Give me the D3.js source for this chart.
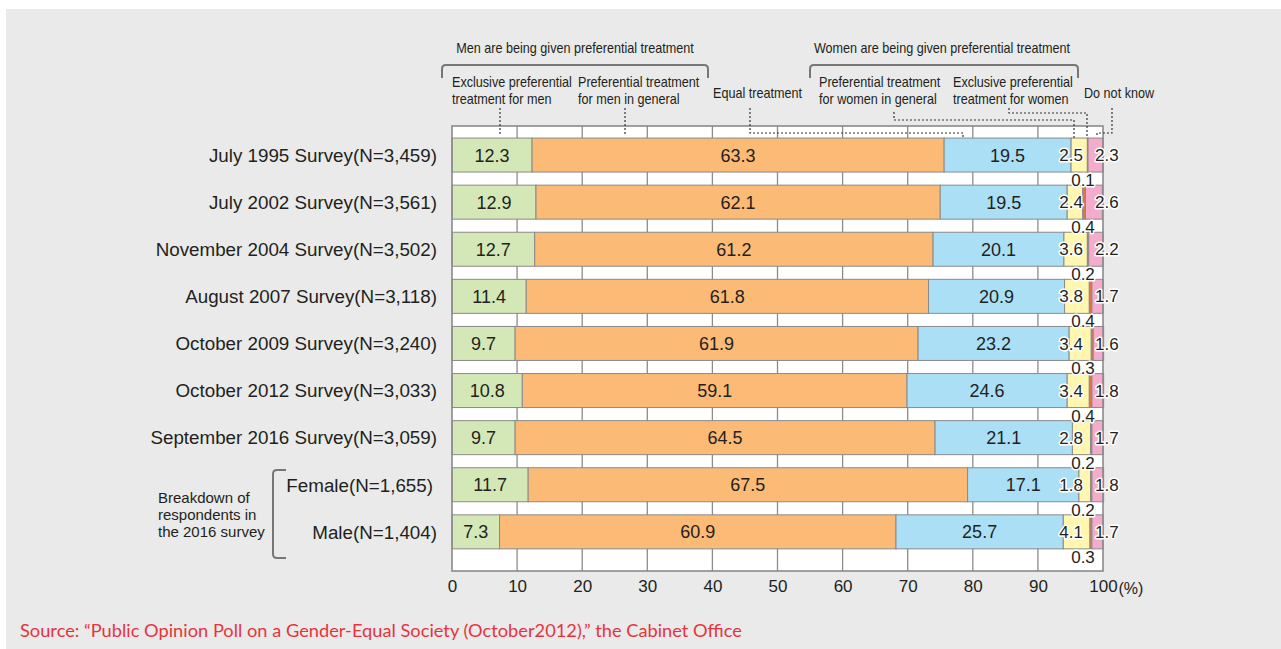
<!DOCTYPE html>
<html>
<head>
<meta charset="utf-8">
<script src="https://cdn.jsdelivr.net/npm/d3@7"></script>
<style>
  body { margin: 0; background: #fff; }
  svg { display: block; }
</style>
</head>
<body>
<div class="chart"></div>
<script>
// survey rows, top to bottom
const categories = [
    'July 1995 Survey(N=3,459)',
    'July 2002 Survey(N=3,561)',
    'November 2004 Survey(N=3,502)',
    'August 2007 Survey(N=3,118)',
    'October 2009 Survey(N=3,240)',
    'October 2012 Survey(N=3,033)',
    'September 2016 Survey(N=3,059)',
    'Female(N=1,655)',
    'Male(N=1,404)'
];
const seriesNames = ['exclMen', 'prefMen', 'equal', 'prefWomen', 'exclWomen', 'dontKnow'];
const exclMen   = [12.3, 12.9, 12.7, 11.4, 9.7, 10.8, 9.7, 11.7, 7.3];
const prefMen   = [63.3, 62.1, 61.2, 61.8, 61.9, 59.1, 64.5, 67.5, 60.9];
const equal     = [19.5, 19.5, 20.1, 20.9, 23.2, 24.6, 21.1, 17.1, 25.7];
const prefWomen = [2.5, 2.4, 3.6, 3.8, 3.4, 3.4, 2.8, 1.8, 4.1];
const exclWomen = [0.1, 0.4, 0.2, 0.4, 0.3, 0.4, 0.2, 0.2, 0.3];
const dontKnow  = [2.3, 2.6, 2.2, 1.7, 1.6, 1.8, 1.7, 1.8, 1.7];
const xTicks = [0, 10, 20, 30, 40, 50, 60, 70, 80, 90, 100];

const colors = {
    exclMen: '#d4e7b6',
    prefMen: '#fbba75',
    equal: '#abdff6',
    prefWomen: '#fff6b0',
    exclWomen: '#d9784f',
    dontKnow: '#f4abcc'
};

const rows = categories.map((c, i) => ({
    cat: c,
    exclMen: exclMen[i], prefMen: prefMen[i], equal: equal[i],
    prefWomen: prefWomen[i], exclWomen: exclWomen[i], dontKnow: dontKnow[i]
}));

const W = 1281, H = 649;
const plot = { left: 452, right: 1103, top: 126, bottom: 571 };
const sans = '"Liberation Sans", Arial, sans-serif';
const ink = '#231f20';

const svg = d3.select('.chart')
    .append('svg')
    .attr('width', W)
    .attr('height', H);

// grey panel
svg.append('rect')
    .attr('x', 6).attr('y', 9)
    .attr('width', W - 6).attr('height', H - 9)
    .attr('fill', '#e9eae9');

const x = d3.scaleLinear().domain([0, 100]).range([plot.left, plot.right]);
const y = d3.scaleBand()
    .domain(categories)
    .range([131.5, 555.4])
    .paddingInner(0.278)
    .paddingOuter(0.139);

// plot area + grid
svg.append('rect')
    .attr('x', plot.left).attr('y', plot.top)
    .attr('width', plot.right - plot.left).attr('height', plot.bottom - plot.top)
    .attr('fill', '#fff');

svg.append('g')
    .selectAll('line')
    .data(xTicks.slice(1, -1))
    .enter()
    .append('line')
    .attr('x1', d => x(d)).attr('x2', d => x(d))
    .attr('y1', plot.top).attr('y2', plot.bottom)
    .attr('stroke', '#8c8c8c')
    .attr('stroke-width', 1.3);

const stack = d3.stack().keys(seriesNames);
const layers = stack(rows);

const graph = svg.append('g');
layers.forEach(layer => {
    graph.append('g')
        .selectAll('rect')
        .data(layer)
        .enter()
        .append('rect')
        .attr('x', d => x(d[0]))
        .attr('y', d => y(d.data.cat))
        .attr('width', d => x(d[1]) - x(d[0]))
        .attr('height', y.bandwidth())
        .attr('fill', colors[layer.key])
        .attr('stroke', '#8a8a8a')
        .attr('stroke-width', 1);
});

svg.append('rect')
    .attr('x', plot.left).attr('y', plot.top)
    .attr('width', plot.right - plot.left).attr('height', plot.bottom - plot.top)
    .attr('fill', 'none')
    .attr('stroke', '#8a8a8a')
    .attr('stroke-width', 1.6);

// value labels
const labels = svg.append('g')
    .attr('font-family', sans)
    .attr('fill', ink);

['exclMen', 'prefMen', 'equal'].forEach(key => {
    const layer = layers.find(l => l.key === key);
    labels.selectAll(null)
        .data(layer)
        .enter()
        .append('text')
        .attr('x', d => (x(d[0]) + x(d[1])) / 2)
        .attr('y', d => y(d.data.cat) + y.bandwidth() / 2)
        .attr('dy', '0.36em')
        .attr('text-anchor', 'middle')
        .attr('font-size', 18)
        .text(d => d.data[key].toFixed(1));
});

const halo = sel => sel
    .attr('font-size', 17)
    .attr('stroke', '#fff')
    .attr('stroke-width', 3)
    .attr('stroke-linejoin', 'round')
    .attr('paint-order', 'stroke');

labels.selectAll(null)
    .data(rows)
    .enter()
    .append('text')
    .attr('x', x(100) - 20)
    .attr('y', d => y(d.cat) + y.bandwidth() / 2)
    .attr('dy', '0.36em')
    .attr('text-anchor', 'end')
    .text(d => d.prefWomen.toFixed(1))
    .call(halo);

labels.selectAll(null)
    .data(rows)
    .enter()
    .append('text')
    .attr('x', x(100) - 8)
    .attr('y', d => y(d.cat) + y.bandwidth() / 2)
    .attr('dy', '0.36em')
    .attr('text-anchor', 'start')
    .text(d => d.dontKnow.toFixed(1))
    .call(halo);

labels.selectAll(null)
    .data(rows)
    .enter()
    .append('text')
    .attr('x', x(100) - 20)
    .attr('y', d => y(d.cat) + y.bandwidth() + 14)
    .attr('text-anchor', 'middle')
    .text(d => d.exclWomen.toFixed(1))
    .call(halo);

// category labels
svg.append('g')
    .selectAll('text')
    .data(categories)
    .enter()
    .append('text')
    .attr('x', (d, i) => i === 7 ? 433 : 437)
    .attr('y', d => y(d) + y.bandwidth() / 2)
    .attr('dy', '0.36em')
    .attr('text-anchor', 'end')
    .attr('font-family', sans)
    .attr('font-size', 18.8)
    .attr('fill', ink)
    .text(d => d);

// breakdown bracket
svg.append('path')
    .attr('d', 'M286,470 L277,470 Q273,470 273,474 L273,554 Q273,558 277,558 L286,558')
    .attr('fill', 'none')
    .attr('stroke', '#777')
    .attr('stroke-width', 2);

svg.append('text')
    .attr('font-family', sans)
    .attr('font-size', 15)
    .attr('fill', ink)
    .selectAll('tspan')
    .data(['Breakdown of', 'respondents in', 'the 2016 survey'])
    .enter()
    .append('tspan')
    .attr('x', 158)
    .attr('y', (d, i) => 503 + i * 17)
    .text(d => d);

// x axis
const xAxis = d3.axisBottom(x)
    .tickValues(xTicks)
    .tickSize(0)
    .tickPadding(9);
const axisG = svg.append('g')
    .attr('transform', `translate(0, ${plot.bottom})`)
    .call(xAxis);
axisG.select('.domain').remove();
axisG.selectAll('text')
    .attr('font-family', sans)
    .attr('font-size', 17)
    .attr('fill', ink);
svg.append('text')
    .attr('x', x(100) + 15.5)
    .attr('y', 594)
    .attr('font-family', sans)
    .attr('font-size', 16)
    .attr('fill', ink)
    .text('(%)');

// header annotations (narrow face faked with a horizontal squeeze)
const head = svg.append('g')
    .attr('font-family', sans)
    .attr('font-size', 14.5)
    .attr('fill', ink);

const narrowText = (x0, y0, lines, anchor) => {
    const g = head.append('g').attr('transform', `translate(${x0}, ${y0}) scale(0.87, 1)`);
    lines.forEach((l, i) => g.append('text')
        .attr('x', 0).attr('y', i * 17)
        .attr('text-anchor', anchor || 'start')
        .text(l));
};
narrowText(575, 53, ['Men are being given preferential treatment'], 'middle');
narrowText(942, 53, ['Women are being given preferential treatment'], 'middle');
narrowText(452, 87, ['Exclusive preferential', 'treatment for men']);
narrowText(578, 87, ['Preferential treatment', 'for men in general']);
narrowText(819, 87, ['Preferential treatment', 'for women in general']);
narrowText(953, 87, ['Exclusive preferential', 'treatment for women']);
narrowText(713, 98, ['Equal treatment']);
narrowText(1084, 98, ['Do not know']);

const bracket = (x0, x1) => `M${x0},78 L${x0},69 Q${x0},65 ${x0 + 4},65 L${x1 - 4},65 Q${x1},65 ${x1},69 L${x1},78`;
svg.append('path').attr('d', bracket(442, 708))
    .attr('fill', 'none').attr('stroke', '#777').attr('stroke-width', 2);
svg.append('path').attr('d', bracket(810, 1078))
    .attr('fill', 'none').attr('stroke', '#777').attr('stroke-width', 2);

// dashed leaders
const leaders = [
    [[500, 108], [500, 136]],
    [[625, 108], [625, 136]],
    [[750, 108], [750, 133], [963, 133], [963, 137]],
    [[894, 112], [894, 120], [1074, 120], [1074, 138]],
    [[1009, 108], [1009, 113], [1087, 113], [1087, 138]],
    [[1112, 108], [1112, 133], [1097, 133], [1097, 137]]
];
svg.append('g')
    .selectAll('path')
    .data(leaders)
    .enter()
    .append('path')
    .attr('d', d3.line())
    .attr('fill', 'none')
    .attr('stroke', '#333')
    .attr('stroke-width', 1.2)
    .attr('stroke-dasharray', '2,2');

// source
svg.append('text')
    .attr('x', 20)
    .attr('y', 637)
    .attr('font-family', 'Lato, "Open Sans", sans-serif')
    .attr('font-size', 17)
    .attr('textLength', 722)
    .attr('lengthAdjust', 'spacingAndGlyphs')
    .attr('fill', '#e8333c')
    .text('Source: \u201cPublic Opinion Poll on a Gender-Equal Society (October2012),\u201d the Cabinet Office');
</script>
</body>
</html>
